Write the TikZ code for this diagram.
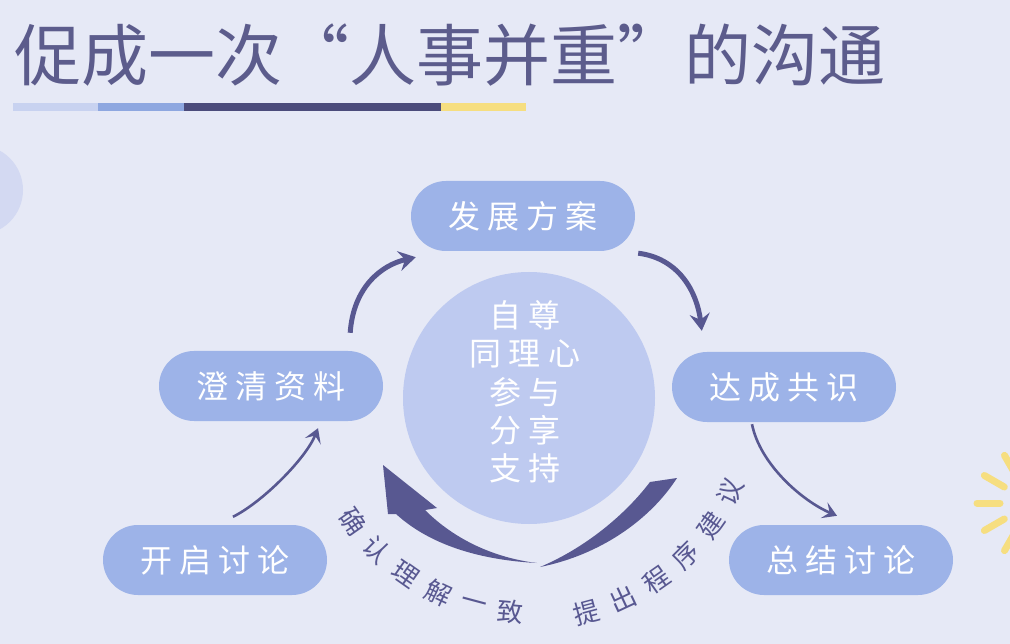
\documentclass[tikz,border=0pt]{standalone}
\usepackage{fontspec}
\newfontfamily\cjk{Noto Sans CJK SC}
\usetikzlibrary{arrows.meta}

\definecolor{bgc}{RGB}{230,233,246}
\definecolor{pill}{RGB}{157,179,232}
\definecolor{core}{RGB}{190,202,240}
\definecolor{ink}{RGB}{88,88,145}
\definecolor{titlec}{RGB}{92,92,140}
\definecolor{sun}{RGB}{246,222,128}
\definecolor{faint}{RGB}{211,217,242}
\definecolor{barone}{RGB}{200,210,240}
\definecolor{bartwo}{RGB}{142,167,224}

\begin{document}
\begin{tikzpicture}[x=1pt,y=-1pt,
    stage/.style={fill=pill, rounded corners=35pt, minimum width=224pt, minimum height=70pt,
      text=white, font=\cjk\fontsize{32}{32}\selectfont},
    flow/.style={draw=ink, line width=5pt, -{Stealth[length=17pt,width=20pt,inset=6pt]}},
    thinflow/.style={draw=ink, line width=2.6pt, -{Stealth[length=14pt,width=17pt,inset=6pt]}},
    arclabel/.style={text=ink, font=\cjk\fontsize{26}{26}\selectfont, inner sep=0pt}]
      \useasboundingbox (0,0) rectangle (1010,644);
      \fill[bgc] (0,0) rectangle (1010,644);
      \fill[faint] (-22,190) circle (45);
      \foreach \a in {120,150,180,210,240}
        \draw[sun, line width=7pt, line cap=round, shift={(1032,503)}] (\a:32) -- (\a:55);

      % title and bar
      \node[anchor=west, inner sep=0pt, text=titlec, font=\cjk\fontsize{67}{67}\selectfont] (title) at (14,55) {促成一次“人事并重”的沟通};
      \fill[barone] (13,103) rectangle (98,111);
      \fill[bartwo] (98,103) rectangle (184,111);
      \fill[ink!85!black] (184,103) rectangle (441,111);
      \fill[sun] (441,103) rectangle (526,111);

      % centre
      \node[circle, fill=core, minimum size=252pt, inner sep=0pt] (core) at (529,398) {};
      \node[align=center, text=white, font=\cjk\fontsize{32}{38.3}\selectfont] (values) at (525,392)
        {自 尊\\同 理 心\\参 与\\分 享\\支 持};

      % stages
      \node[stage] (fz) at (523,216) {发 展 方 案};
      \node[stage] (cq) at (271,386) {澄 清 资 料};
      \node[stage] (dc) at (784,387) {达 成 共 识};
      \node[stage] (kq) at (215,560) {开 启 讨 论};
      \node[stage] (zj) at (841,560) {总 结 讨 论};

      \draw[flow] ([xshift=-33pt,yshift=18pt]cq.north east) .. controls +(3,-45) and +(-35,8) .. ([xshift=5pt,yshift=-6pt]fz.south west);
      \draw[flow] ([xshift=3pt,yshift=-2pt]fz.south east) .. controls +(40,5) and +(-5,-40) .. ([xshift=30pt,yshift=21pt]dc.north west);
      \draw[thinflow] ([xshift=18pt,yshift=8pt]kq.north) .. controls +(30,-15) and +(-12,30) .. ([xshift=47pt,yshift=-7pt]cq.south);
      \draw[thinflow] ([xshift=-32pt,yshift=-2pt]dc.south) .. controls +(8,40) and +(-35,-15) .. ([xshift=-4pt,yshift=9pt]zj.north);

      % big return arrows
      \fill[ink] (383,465) -- (437,508) -- (425,510) .. controls (455,540) and (495,558) .. (537,563)
        .. controls (480,560) and (430,545) .. (396,514) -- (388,514) -- cycle;
      \fill[ink] (540,567) .. controls (600,555) and (650,520) .. (677,478) -- (650,482)
        .. controls (625,515) and (585,548) .. (540,567) -- cycle;

      \foreach \c [count=\i, evaluate=\i as \a using 155-10*\i] in {确,认,理,解,一,致}
        \node[arclabel, rotate=90-\a] (l\i) at ([shift={(\a:215)}]core.center) {\c};
      \foreach \c [count=\i, evaluate=\i as \a using 85-10*\i] in {提,出,程,序,建,议}
        \node[arclabel, rotate=90-\a] (r\i) at ([shift={(\a:222)}]core.center) {\c};
    \end{tikzpicture}
\end{document}
